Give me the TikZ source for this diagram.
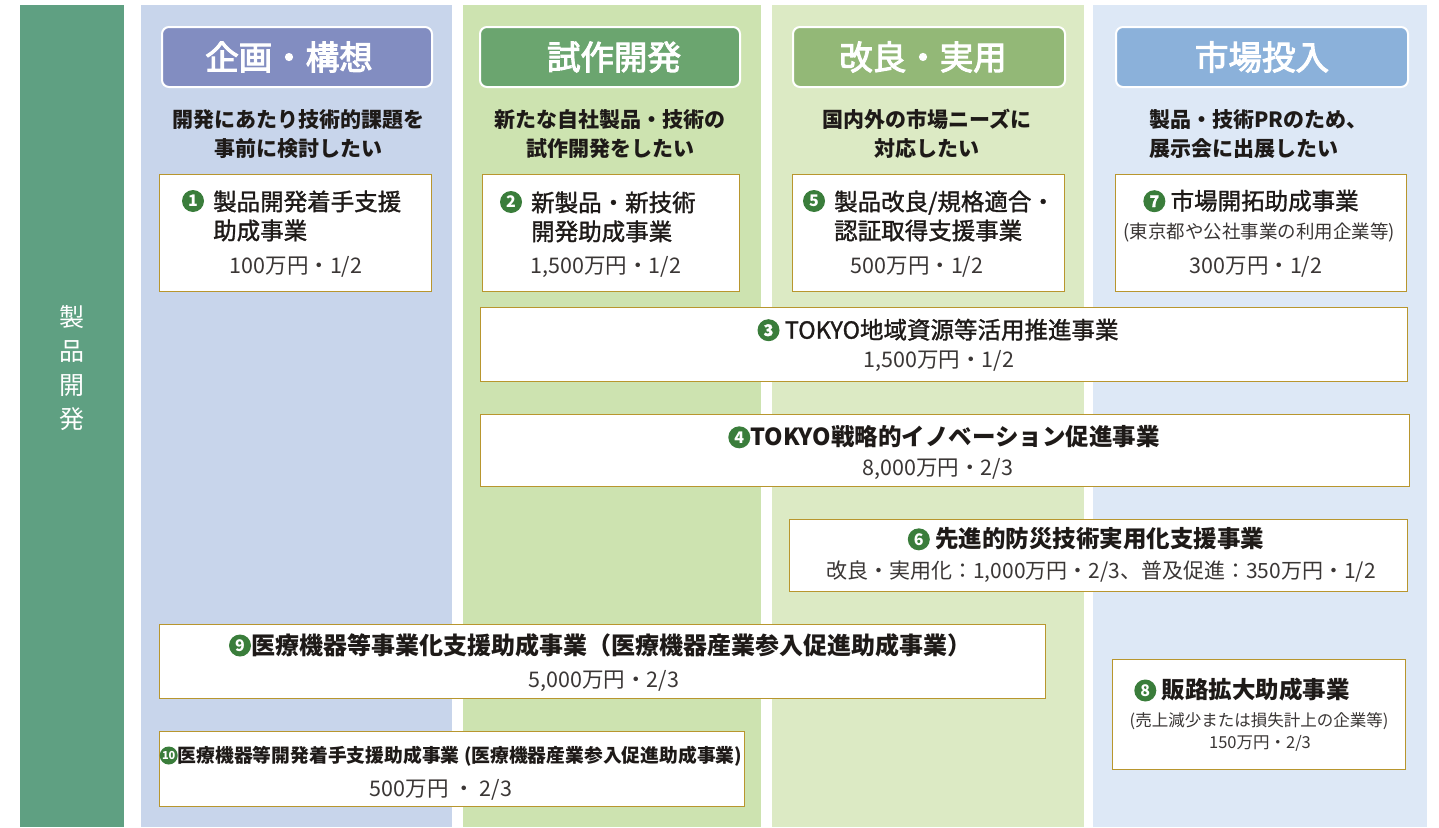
\documentclass[tikz,border=0pt]{standalone}
\usepackage{fontspec}
\setmainfont{Noto Sans CJK JP}
\newfontfamily\medfont{Noto Sans CJK JP}[FakeBold=1.3]
\newfontfamily\hdrfont{Noto Sans CJK JP}[FakeBold=3]
\definecolor{leftbar}{HTML}{5FA082}
\definecolor{colA}{HTML}{C8D5EB}
\definecolor{colB}{HTML}{CDE3B0}
\definecolor{colC}{HTML}{DCEAC4}
\definecolor{colD}{HTML}{DDE8F6}
\definecolor{hA}{HTML}{828DC1}
\definecolor{hB}{HTML}{6BA56F}
\definecolor{hC}{HTML}{93B877}
\definecolor{hD}{HTML}{8BB1DA}
\definecolor{gold}{HTML}{B8962E}
\definecolor{numgreen}{HTML}{3A7D3B}
\definecolor{ink}{HTML}{1E1A18}
\definecolor{grayt}{HTML}{3A3635}
\newcommand\cnum[3][22]{\tikz[baseline=-0.36em]\node[circle, fill=numgreen, text=white, inner sep=0pt, minimum size=#1pt, font=\bfseries\fontsize{#2}{#2}\selectfont] (cn) {#3};}
\tikzset{
  panel/.style={draw=none, anchor=north west, inner sep=0pt, outer sep=0pt},
  hdr/.style={draw=white, line width=2pt, rounded corners=7pt, inner sep=0pt, minimum height=60pt, anchor=north west},
  hdrtext/.style={text=white, inner sep=0pt, font=\hdrfont\fontsize{33.5}{33.5}\selectfont},
  subtext/.style={inner sep=0pt, align=center, text=ink, font=\bfseries\fontsize{21}{28.5}\selectfont},
  prog/.style={draw=gold, line width=1.4pt, fill=white, anchor=north west, inner sep=0pt},
  numdot/.style={inner sep=0pt, circle, fill=numgreen, text=white, minimum size=22pt, font=\bfseries\fontsize{16}{16}\selectfont},
  ttl/.style={inner sep=0pt, text=ink, align=left, font=\medfont\fontsize{23.5}{29}\selectfont},
  ttlb/.style={inner sep=0pt, text=ink, font=\bfseries\fontsize{23.5}{29}\selectfont},
  amt/.style={inner sep=0pt, text=grayt, font=\fontsize{21.5}{26}\selectfont},
  note/.style={inner sep=0pt, text=grayt, font=\fontsize{18.5}{22}\selectfont},
}
\begin{document}
\begin{tikzpicture}[x=1pt,y=-1pt]
\useasboundingbox (0,0) rectangle (1439,827);
\fill[white] (0,0) rectangle (1439,827);
% columns
\node[panel, fill=leftbar, minimum width=104pt, minimum height=822pt] (bar) at (20,5) {};
\node[panel, fill=colA, minimum width=311pt, minimum height=822pt] (cA) at (141,5) {};
\node[panel, fill=colB, minimum width=298pt, minimum height=822pt] (cB) at (463,5) {};
\node[panel, fill=colC, minimum width=312pt, minimum height=822pt] (cC) at (772,5) {};
\node[panel, fill=colD, minimum width=334pt, minimum height=822pt] (cD) at (1093,5) {};
% left bar label
\node[inner sep=0pt, text=white, align=center, font=\fontsize{25}{34}\selectfont] (barlbl) at (72,368) {製\\品\\開\\発};
% headers
\node[hdr, fill=hA, minimum width=270pt] (hd1) at (161,26) {};
\node[hdr, fill=hB, minimum width=260pt] (hd2) at (479,26) {};
\node[hdr, fill=hC, minimum width=272pt] (hd3) at (792,26) {};
\node[hdr, fill=hD, minimum width=292pt] (hd4) at (1115,26) {};
\node[hdrtext] (ht1) at (289,57) {企画・構想};
\node[hdrtext] (ht2) at (614,57) {試作開発};
\node[hdrtext] (ht3) at (923,57) {改良・実用};
\node[hdrtext] (ht4) at (1262,57) {市場投入};
% subtitles
\node[subtext] (st1) at (298,134) {開発にあたり技術的課題を\\事前に検討したい};
\node[subtext] (st2) at (610,134) {新たな自社製品・技術の\\試作開発をしたい};
\node[subtext] (st3) at (927,134) {国内外の市場ニーズに\\対応したい};
\node[subtext, align=left, anchor=west] (st4) at (1149,134) {製品・技術PRのため、\\展示会に出展したい};
% top row boxes
\node[prog, minimum width=272pt, minimum height=117pt] (b1) at (159,174) {};
\node[prog, minimum width=257pt, minimum height=117pt] (b2) at (482,174) {};
\node[prog, minimum width=272pt, minimum height=117pt] (b5) at (792,174) {};
\node[prog, minimum width=291pt, minimum height=117pt] (b7) at (1115,174) {};
% box 1
\node[numdot] (n1) at (193,201) {1};
\node[ttl, anchor=west] (t1) at (213,216) {製品開発着手支援\\助成事業};
\node[amt] (a1) at (296,267) {100万円・1/2};
% box 2
\node[numdot] (n2) at (511,202) {2};
\node[ttl, anchor=west] (t2) at (531,217) {新製品・新技術\\開発助成事業};
\node[amt] (a2) at (606,267) {1,500万円・1/2};
% box 5
\node[numdot] (n5) at (814,201) {5};
\node[ttl, anchor=west] (t5) at (834,216) {製品改良/規格適合・\\認証取得支援事業};
\node[amt] (a5) at (917,267) {500万円・1/2};
% box 7
\node[ttl] (t7) at (1251,201) {\cnum{16}{7} 市場開拓助成事業};
\node[note] (s7) at (1259,232) {(東京都や公社事業の利用企業等)};
\node[amt] (a7) at (1256,267) {300万円・1/2};
% box 3
\node[prog, minimum width=927pt, minimum height=74pt] (b3) at (480,307) {};
\node[ttl] (t3) at (938,330) {\cnum{16}{3} TOKYO地域資源等活用推進事業};
\node[amt] (a3) at (939,361) {1,500万円・1/2};
% box 4
\node[prog, minimum width=929pt, minimum height=72pt] (b4) at (480,414) {};
\node[ttlb] (t4) at (944,437) {\cnum{16}{4}TOKYO戦略的イノベーション促進事業};
\node[amt] (a4) at (938,469) {8,000万円・2/3};
% box 6
\node[prog, minimum width=618pt, minimum height=72pt] (b6) at (789,519) {};
\node[ttlb] (t6) at (1086,539) {\cnum{16}{6} 先進的防災技術実用化支援事業};
\node[amt, font=\fontsize{21}{24}\selectfont] (a6) at (1101,572) {改良・実用化：1,000万円・2/3、普及促進：350万円・1/2};
% box 9
\node[prog, minimum width=886pt, minimum height=74pt] (b9) at (159,624) {};
\node[ttlb, font=\bfseries\fontsize{24}{29}\selectfont] (t9) at (600,645) {\cnum{16}{9}医療機器等事業化支援助成事業（医療機器産業参入促進助成事業）};
\node[amt] (a9) at (604,681) {5,000万円・2/3};
% box 10
\node[prog, minimum width=585pt, minimum height=75pt] (b10) at (159,731) {};
\node[ttlb, font=\bfseries\fontsize{18.8}{24}\selectfont] (t10) at (451,756) {\cnum[18]{11}{10}医療機器等開発着手支援助成事業 (医療機器産業参入促進助成事業)};
\node[amt] (a10) at (441,790) {500万円 ・ 2/3};
% box 8
\node[prog, minimum width=293pt, minimum height=110pt] (b8) at (1112,659) {};
\node[ttlb] (t8) at (1242,690) {\cnum{16}{8} 販路拡大助成事業};
\node[note, font=\fontsize{16.5}{20}\selectfont] (s8) at (1259,721) {(売上減少または損失計上の企業等)};
\node[note, font=\fontsize{16.5}{20}\selectfont] (a8) at (1260,743) {150万円・2/3};
\end{tikzpicture}
\end{document}
